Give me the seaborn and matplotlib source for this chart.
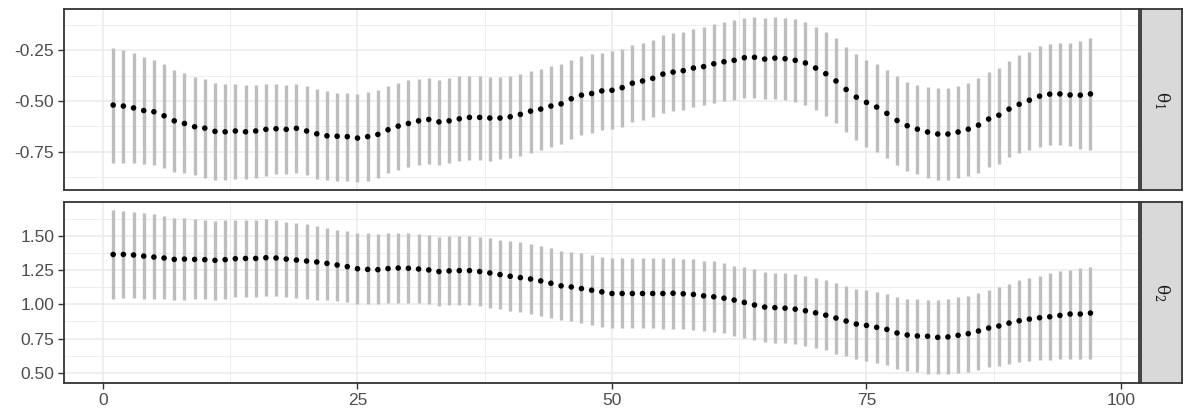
import numpy as np
import pandas as pd
import seaborn as sns
import matplotlib.pyplot as plt
from matplotlib.ticker import MultipleLocator

# index along the x axis
steps = list(range(1, 98))

# theta_1: posterior mean and interval ends
theta1_mean = [
    -0.520, -0.525, -0.534, -0.547, -0.553, -0.573, -0.598, -0.611, -0.627, -0.634,
    -0.650, -0.652, -0.648, -0.652, -0.648, -0.640, -0.637, -0.640, -0.635, -0.648,
    -0.662, -0.672, -0.674, -0.676, -0.683, -0.676, -0.665, -0.642, -0.624, -0.611,
    -0.598, -0.591, -0.603, -0.598, -0.588, -0.581, -0.581, -0.584, -0.584, -0.578,
    -0.566, -0.550, -0.540, -0.525, -0.514, -0.489, -0.471, -0.463, -0.450, -0.447,
    -0.434, -0.412, -0.401, -0.388, -0.367, -0.357, -0.350, -0.337, -0.330, -0.316,
    -0.306, -0.299, -0.286, -0.284, -0.293, -0.288, -0.291, -0.299, -0.312, -0.337,
    -0.365, -0.401, -0.443, -0.481, -0.507, -0.530, -0.561, -0.596, -0.622, -0.639,
    -0.653, -0.663, -0.663, -0.653, -0.639, -0.619, -0.589, -0.570, -0.540, -0.516,
    -0.496, -0.476, -0.466, -0.465, -0.470, -0.471, -0.465,
]
theta1_hi = [
    -0.237, -0.247, -0.261, -0.283, -0.296, -0.319, -0.348, -0.360, -0.379, -0.393,
    -0.412, -0.417, -0.417, -0.421, -0.421, -0.414, -0.414, -0.419, -0.417, -0.427,
    -0.442, -0.452, -0.458, -0.460, -0.465, -0.457, -0.447, -0.427, -0.409, -0.398,
    -0.389, -0.384, -0.394, -0.388, -0.378, -0.376, -0.376, -0.379, -0.381, -0.376,
    -0.365, -0.352, -0.342, -0.325, -0.316, -0.296, -0.278, -0.270, -0.261, -0.253,
    -0.244, -0.222, -0.211, -0.197, -0.175, -0.165, -0.158, -0.143, -0.132, -0.119,
    -0.108, -0.102, -0.089, -0.086, -0.091, -0.086, -0.089, -0.096, -0.109, -0.132,
    -0.158, -0.191, -0.234, -0.270, -0.296, -0.319, -0.345, -0.378, -0.404, -0.421,
    -0.431, -0.437, -0.437, -0.427, -0.411, -0.388, -0.357, -0.335, -0.303, -0.275,
    -0.258, -0.230, -0.216, -0.211, -0.211, -0.204, -0.191,
]
theta1_lo = [
    -0.807, -0.804, -0.807, -0.812, -0.816, -0.832, -0.852, -0.858, -0.868, -0.878,
    -0.889, -0.889, -0.883, -0.883, -0.880, -0.870, -0.863, -0.863, -0.857, -0.866,
    -0.883, -0.889, -0.893, -0.894, -0.899, -0.893, -0.880, -0.857, -0.840, -0.824,
    -0.816, -0.811, -0.814, -0.807, -0.798, -0.791, -0.791, -0.794, -0.788, -0.784,
    -0.771, -0.758, -0.742, -0.726, -0.712, -0.686, -0.668, -0.657, -0.643, -0.640,
    -0.627, -0.604, -0.594, -0.578, -0.558, -0.549, -0.542, -0.532, -0.522, -0.512,
    -0.499, -0.493, -0.485, -0.483, -0.490, -0.488, -0.493, -0.504, -0.520, -0.545,
    -0.575, -0.608, -0.652, -0.693, -0.726, -0.750, -0.780, -0.816, -0.844, -0.863,
    -0.878, -0.889, -0.889, -0.881, -0.870, -0.854, -0.824, -0.811, -0.778, -0.758,
    -0.742, -0.726, -0.717, -0.719, -0.722, -0.738, -0.742,
]

# theta_2
theta2_mean = [
    1.364, 1.364, 1.360, 1.352, 1.345, 1.338, 1.328, 1.330, 1.328, 1.326,
    1.321, 1.326, 1.333, 1.335, 1.335, 1.340, 1.338, 1.330, 1.323, 1.316,
    1.309, 1.299, 1.287, 1.275, 1.260, 1.255, 1.253, 1.261, 1.265, 1.263,
    1.258, 1.251, 1.239, 1.244, 1.246, 1.246, 1.239, 1.229, 1.217, 1.205,
    1.195, 1.185, 1.171, 1.154, 1.135, 1.127, 1.115, 1.103, 1.091, 1.079,
    1.079, 1.079, 1.079, 1.079, 1.079, 1.081, 1.077, 1.072, 1.062, 1.055,
    1.045, 1.031, 1.014, 0.995, 0.980, 0.976, 0.972, 0.965, 0.953, 0.938,
    0.921, 0.900, 0.878, 0.856, 0.846, 0.832, 0.817, 0.791, 0.776, 0.769,
    0.767, 0.759, 0.762, 0.774, 0.786, 0.805, 0.827, 0.842, 0.863, 0.880,
    0.892, 0.902, 0.909, 0.919, 0.929, 0.929, 0.936,
]
theta2_hi = [
    1.689, 1.682, 1.676, 1.667, 1.658, 1.643, 1.631, 1.629, 1.621, 1.619,
    1.609, 1.614, 1.619, 1.619, 1.619, 1.624, 1.617, 1.604, 1.594, 1.585,
    1.570, 1.556, 1.546, 1.536, 1.522, 1.517, 1.512, 1.519, 1.522, 1.519,
    1.515, 1.505, 1.495, 1.498, 1.500, 1.498, 1.490, 1.483, 1.473, 1.464,
    1.452, 1.439, 1.425, 1.408, 1.391, 1.384, 1.372, 1.360, 1.347, 1.335,
    1.335, 1.338, 1.340, 1.340, 1.340, 1.338, 1.333, 1.328, 1.318, 1.314,
    1.304, 1.282, 1.270, 1.255, 1.236, 1.231, 1.229, 1.219, 1.207, 1.195,
    1.178, 1.159, 1.137, 1.115, 1.103, 1.093, 1.076, 1.057, 1.042, 1.038,
    1.033, 1.030, 1.038, 1.050, 1.064, 1.086, 1.108, 1.127, 1.151, 1.178,
    1.193, 1.210, 1.226, 1.241, 1.253, 1.265, 1.275,
]
theta2_lo = [
    1.040, 1.045, 1.048, 1.042, 1.042, 1.037, 1.033, 1.035, 1.037, 1.037,
    1.035, 1.040, 1.052, 1.057, 1.057, 1.062, 1.062, 1.052, 1.048, 1.040,
    1.033, 1.028, 1.023, 1.016, 1.004, 0.999, 0.999, 1.009, 1.013, 1.013,
    1.009, 0.999, 0.987, 0.992, 0.994, 0.994, 0.987, 0.972, 0.963, 0.950,
    0.941, 0.931, 0.914, 0.899, 0.882, 0.878, 0.863, 0.849, 0.837, 0.827,
    0.825, 0.825, 0.825, 0.825, 0.822, 0.822, 0.820, 0.815, 0.808, 0.800,
    0.791, 0.771, 0.754, 0.742, 0.725, 0.721, 0.716, 0.708, 0.694, 0.682,
    0.665, 0.641, 0.621, 0.599, 0.583, 0.570, 0.556, 0.529, 0.512, 0.503,
    0.495, 0.488, 0.491, 0.498, 0.505, 0.524, 0.539, 0.551, 0.566, 0.578,
    0.585, 0.590, 0.597, 0.599, 0.604, 0.602, 0.602,
]

panel_labels = [r'$\mathrm{θ}_1$', r'$\mathrm{θ}_2$']
y_major = [0.25, 0.25]
x_ticks = [0, 25, 50, 75, 100]

df = pd.concat([
    pd.DataFrame({'step': steps, 'mean': theta1_mean, 'lo': theta1_lo,
                  'hi': theta1_hi, 'param': panel_labels[0]}),
    pd.DataFrame({'step': steps, 'mean': theta2_mean, 'lo': theta2_lo,
                  'hi': theta2_hi, 'param': panel_labels[1]}),
])

sns.set_theme(style='white')
plt.rcParams['font.family'] = ['Liberation Sans', 'DejaVu Sans']
plt.rcParams['mathtext.fontset'] = 'dejavuserif'

W, H = 1184, 408
fig = plt.figure(figsize=(W / 100, H / 100), dpi=100)

# panel boxes in pixels: (top, bottom)
left_px, right_px = 64.3, 1139.3
rows_px = [(9, 190), (201.7, 382.7)]
strip_px = (1141, 1182)

dark = '#333333'
grid_col = '#EBEBEB'
txt_col = '#4D4D4D'

for i, (lab, (t, b)) in enumerate(zip(panel_labels, rows_px)):
    ax = fig.add_axes([left_px / W, 1 - b / H, (right_px - left_px) / W, (b - t) / H])
    sub = df[df['param'] == lab]

    ax.vlines(sub['step'], sub['lo'], sub['hi'], color='#BEBEBE', lw=2.4, zorder=2)
    sns.scatterplot(data=sub, x='step', y='mean', color='black', s=16,
                    edgecolor='none', ax=ax, zorder=3, legend=False)

    lo_all, hi_all = sub['lo'].min(), sub['hi'].max()
    pad = 0.05 * (hi_all - lo_all)
    ax.set_ylim(lo_all - pad, hi_all + pad)
    ax.set_xlim(1 - 0.05 * 96, 97 + 0.05 * 96)

    ax.xaxis.set_major_locator(MultipleLocator(25))
    ax.xaxis.set_minor_locator(MultipleLocator(12.5))
    ax.yaxis.set_major_locator(MultipleLocator(y_major[i]))
    ax.yaxis.set_minor_locator(MultipleLocator(y_major[i] / 2))
    ax.grid(which='major', color=grid_col, lw=1.1, zorder=0)
    ax.grid(which='minor', color=grid_col, lw=0.6, zorder=0)
    ax.set_axisbelow(True)
    ax.set_xlabel('')
    ax.set_ylabel('')
    ax.yaxis.set_major_formatter(plt.FuncFormatter(lambda v, p: f'{v:.2f}'))

    ax.tick_params(axis='both', which='major', length=4, width=1.0, color=dark,
                   labelcolor=txt_col, labelsize=12.5, pad=3.3, left=True, bottom=True)
    ax.tick_params(which='minor', length=0)
    if i == 0:
        ax.tick_params(axis='x', labelbottom=False, bottom=False)
    else:
        ax.set_xticks(x_ticks)
    for s in ax.spines.values():
        s.set_color(dark)
        s.set_linewidth(1.3)

    # facet strip on the right
    sx = fig.add_axes([strip_px[0] / W, 1 - b / H, (strip_px[1] - strip_px[0]) / W, (b - t) / H])
    sx.set_facecolor('#D9D9D9')
    sx.set_xticks([])
    sx.set_yticks([])
    for s in sx.spines.values():
        s.set_color(dark)
        s.set_linewidth(1.3)
    sx.text(0.5, 0.5, lab, rotation=270, ha='center', va='center',
            fontsize=12, color='#1A1A1A', transform=sx.transAxes)

fig.savefig('out.png', dpi=100)
